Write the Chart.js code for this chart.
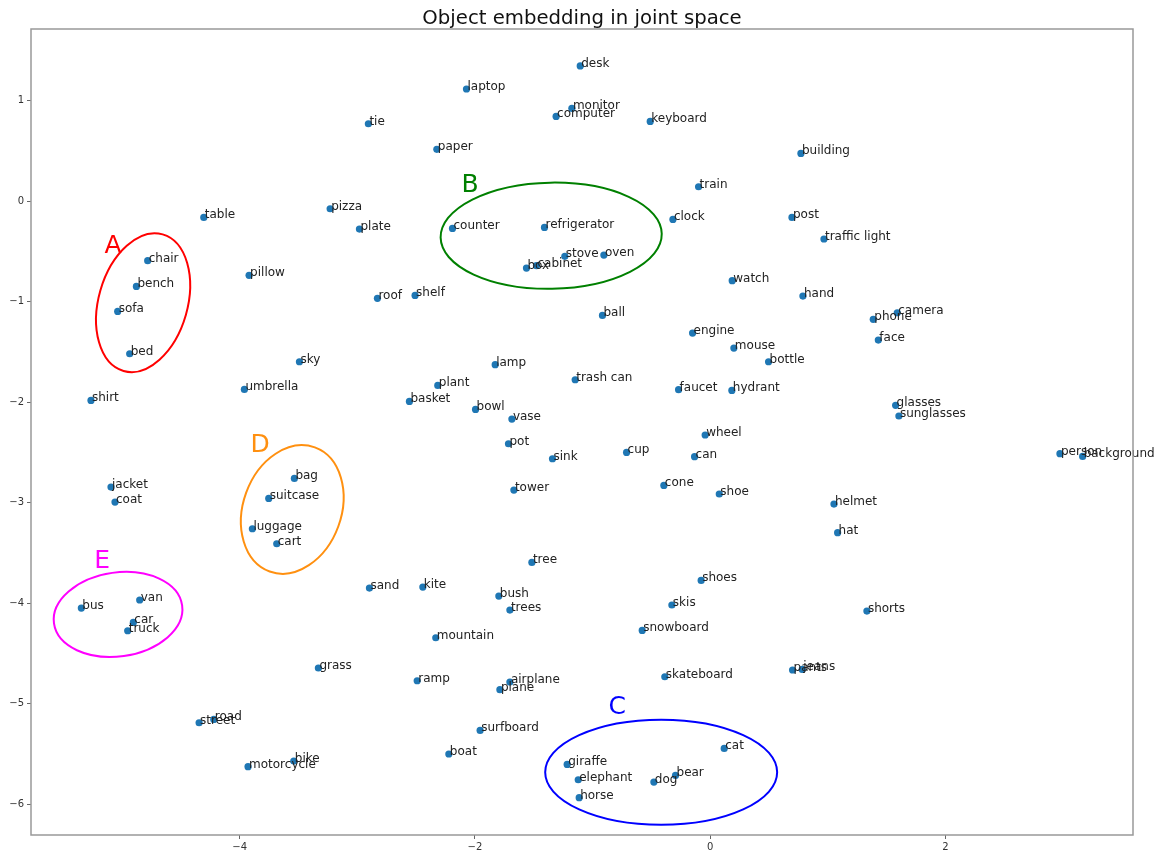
<!DOCTYPE html>
<html>
<head>
<meta charset="utf-8">
<script src="https://cdn.jsdelivr.net/npm/chart.js@4.4.0/dist/chart.umd.min.js"></script>
<style>
  html, body { margin: 0; padding: 0; background: #fff; }
  #wrap { width: 1157px; height: 852px; }
</style>
</head>
<body>
<div id="wrap"><canvas id="embedChart"></canvas></div>
<script>
// object names and their 2-D embedding coordinates
const words = ['desk', 'laptop', 'monitor', 'computer', 'keyboard', 'tie', 'paper', 'building', 'train',
  'pizza', 'table', 'counter', 'refrigerator', 'clock', 'post', 'plate', 'traffic light', 'chair',
  'stove', 'oven', 'box', 'cabinet', 'pillow', 'watch', 'bench', 'roof', 'shelf', 'hand', 'sofa',
  'ball', 'phone', 'camera', 'engine', 'face', 'bed', 'mouse', 'sky', 'lamp', 'bottle', 'trash can',
  'umbrella', 'plant', 'faucet', 'hydrant', 'shirt', 'basket', 'bowl', 'glasses', 'sunglasses', 'vase',
  'wheel', 'pot', 'cup', 'sink', 'can', 'person', 'background', 'bag', 'jacket', 'tower', 'cone',
  'shoe', 'suitcase', 'coat', 'helmet', 'luggage', 'cart', 'hat', 'tree', 'shoes', 'sand', 'kite',
  'bus', 'van', 'bush', 'skis', 'trees', 'shorts', 'car', 'truck', 'mountain', 'snowboard', 'grass',
  'pants', 'jeans', 'ramp', 'airplane', 'skateboard', 'plane', 'road', 'street', 'surfboard', 'cat',
  'boat', 'giraffe', 'bike', 'bear', 'elephant', 'dog', 'motorcycle', 'horse'];

const xVals = [-1.105, -2.072, -1.176, -1.310, -0.510, -2.906, -2.324, 0.771, -0.099,
  -3.231, -4.305, -2.191, -1.409, -0.317, 0.695, -2.982, 0.967, -4.782,
  -1.236, -0.904, -1.562, -1.477, -3.920, 0.187, -4.878, -2.829, -2.509, 0.788, -5.037,
  -0.916, 1.386, 1.590, -0.150, 1.429, -4.935, 0.201, -3.492, -1.828, 0.496, -1.148,
  -3.960, -2.316, -0.269, 0.184, -5.264, -2.557, -1.995, 1.576, 1.604, -1.686,
  -0.043, -1.715, -0.711, -1.341, -0.133, 2.973, 3.166, -3.535, -5.094, -1.669, -0.394,
  0.077, -3.753, -5.060, 1.052, -3.892, -3.685, 1.083, -1.516, -0.077, -2.897, -2.443,
  -5.346, -4.850, -1.797, -0.326, -1.703, 1.332, -4.904, -4.952, -2.333, -0.578, -3.331,
  0.700, 0.782, -2.491, -1.703, -0.386, -1.788, -4.220, -4.345, -1.956, 0.119,
  -2.222, -1.216, -3.540, -0.295, -1.122, -0.479, -3.929, -1.114];

const yVals = [1.346, 1.117, 0.924, 0.844, 0.794, 0.771, 0.516, 0.476, 0.144,
  -0.075, -0.161, -0.271, -0.261, -0.181, -0.161, -0.277, -0.376, -0.592,
  -0.549, -0.536, -0.665, -0.642, -0.738, -0.791, -0.848, -0.967, -0.938, -0.944, -1.097,
  -1.137, -1.176, -1.110, -1.312, -1.382, -1.518, -1.462, -1.598, -1.627, -1.598, -1.777,
  -1.873, -1.833, -1.876, -1.883, -1.983, -1.993, -2.072, -2.032, -2.138, -2.168,
  -2.327, -2.414, -2.500, -2.563, -2.543, -2.513, -2.540, -2.759, -2.845, -2.875, -2.829,
  -2.914, -2.958, -2.994, -3.014, -3.260, -3.409, -3.299, -3.595, -3.774, -3.850, -3.840,
  -4.049, -3.969, -3.930, -4.019, -4.069, -4.079, -4.192, -4.275, -4.345, -4.272, -4.646,
  -4.666, -4.660, -4.773, -4.786, -4.733, -4.862, -5.158, -5.191, -5.267, -5.446,
  -5.502, -5.606, -5.572, -5.715, -5.758, -5.781, -5.628, -5.937];

const xTicks = [-4, -2, 0, 2];
const yTicks = [1, 0, -1, -2, -3, -4, -5, -6];

// hand drawn cluster marks (centre / radii in data units, rotation in degrees)
const clusters = [
  { letter: 'A', color: '#ff0000', cx: -4.821, cy: -1.010, rx: 0.378, ry: 0.707, rot: 16, lx: -5.077, ly: -0.453 },
  { letter: 'B', color: '#008000', cx: -1.352, cy: -0.343, rx: 0.940, ry: 0.528, rot: -1, lx: -2.041, ly: 0.154 },
  { letter: 'C', color: '#0000ff', cx: -0.417, cy: -5.683, rx: 0.986, ry: 0.523, rot: 0, lx: -0.791, ly: -5.041 },
  { letter: 'D', color: '#ff9010', cx: -3.553, cy: -3.068, rx: 0.417, ry: 0.657, rot: 20, lx: -3.827, ly: -2.434 },
  { letter: 'E', color: '#ff00ff', cx: -5.034, cy: -4.113, rx: 0.550, ry: 0.418, rot: -8, lx: -5.170, ly: -3.588 }
];

const points = xVals.map((x, i) => ({ x: x, y: yVals[i] }));

const fmt = v => (v < 0 ? '\u2212' + Math.abs(v) : String(v));

const decorPlugin = {
  id: 'decor',
  afterDatasetsDraw(chart) {
    const ctx = chart.ctx;
    const xs = chart.scales.x, ys = chart.scales.y;
    const area = chart.chartArea;
    const meta = chart.getDatasetMeta(0);

    ctx.save();
    // word labels, anchored left / baseline at each point
    ctx.font = '12px "DejaVu Sans"';
    ctx.fillStyle = '#222';
    ctx.textAlign = 'left';
    ctx.textBaseline = 'alphabetic';
    meta.data.forEach((pt, i) => ctx.fillText(words[i], pt.x + 1, pt.y + 1));

    // cluster ellipses and letters
    clusters.forEach(c => {
      const px = xs.getPixelForValue(c.cx), py = ys.getPixelForValue(c.cy);
      const rx = Math.abs(xs.getPixelForValue(c.cx + c.rx) - px);
      const ry = Math.abs(ys.getPixelForValue(c.cy + c.ry) - py);
      ctx.beginPath();
      ctx.ellipse(px, py, rx, ry, c.rot * Math.PI / 180, 0, Math.PI * 2);
      ctx.strokeStyle = c.color;
      ctx.lineWidth = 2;
      ctx.stroke();
      ctx.font = '25px "DejaVu Sans"';
      ctx.fillStyle = c.color;
      ctx.textAlign = 'center';
      ctx.textBaseline = 'middle';
      ctx.fillText(c.letter, xs.getPixelForValue(c.lx), ys.getPixelForValue(c.ly));
    });

    // frame
    ctx.strokeStyle = '#999';
    ctx.lineWidth = 1.5;
    ctx.strokeRect(area.left, area.top, area.right - area.left, area.bottom - area.top);

    // title
    ctx.font = '19.7px "DejaVu Sans"';
    ctx.fillStyle = '#111';
    ctx.textAlign = 'center';
    ctx.textBaseline = 'alphabetic';
    ctx.fillText('Object embedding in joint space', (area.left + area.right) / 2, 24);
    ctx.restore();
  }
};

new Chart(document.getElementById('embedChart').getContext('2d'), {
  type: 'scatter',
  data: {
    datasets: [{
      data: points,
      backgroundColor: '#1f77b4',
      borderWidth: 0,
      pointRadius: 3.6,
      pointHoverRadius: 3.6
    }]
  },
  options: {
    responsive: true,
    maintainAspectRatio: false,
    animation: false,
    events: [],
    layout: { padding: { top: 29, right: 24, left: 0, bottom: 0 } },
    plugins: { legend: { display: false }, tooltip: { enabled: false }, title: { display: false } },
    scales: {
      x: {
        type: 'linear',
        min: -5.774,
        max: 3.594,
        afterBuildTicks: s => { s.ticks = xTicks.map(v => ({ value: v })); },
        afterFit: s => { s.height = 17; },
        grid: { drawOnChartArea: false, drawTicks: true, tickLength: 4, color: '#666' },
        border: { display: false },
        ticks: { color: '#333', font: { family: 'DejaVu Sans', size: 10 }, padding: 2, maxRotation: 0, callback: fmt }
      },
      y: {
        type: 'linear',
        min: -6.308,
        max: 1.714,
        afterBuildTicks: s => { s.ticks = yTicks.map(v => ({ value: v })); },
        afterFit: s => { s.width = 31; },
        grid: { drawOnChartArea: false, drawTicks: true, tickLength: 4, color: '#666' },
        border: { display: false },
        ticks: { color: '#333', font: { family: 'DejaVu Sans', size: 10 }, padding: 3, callback: fmt }
      }
    }
  },
  plugins: [decorPlugin]
});
</script>
</body>
</html>
